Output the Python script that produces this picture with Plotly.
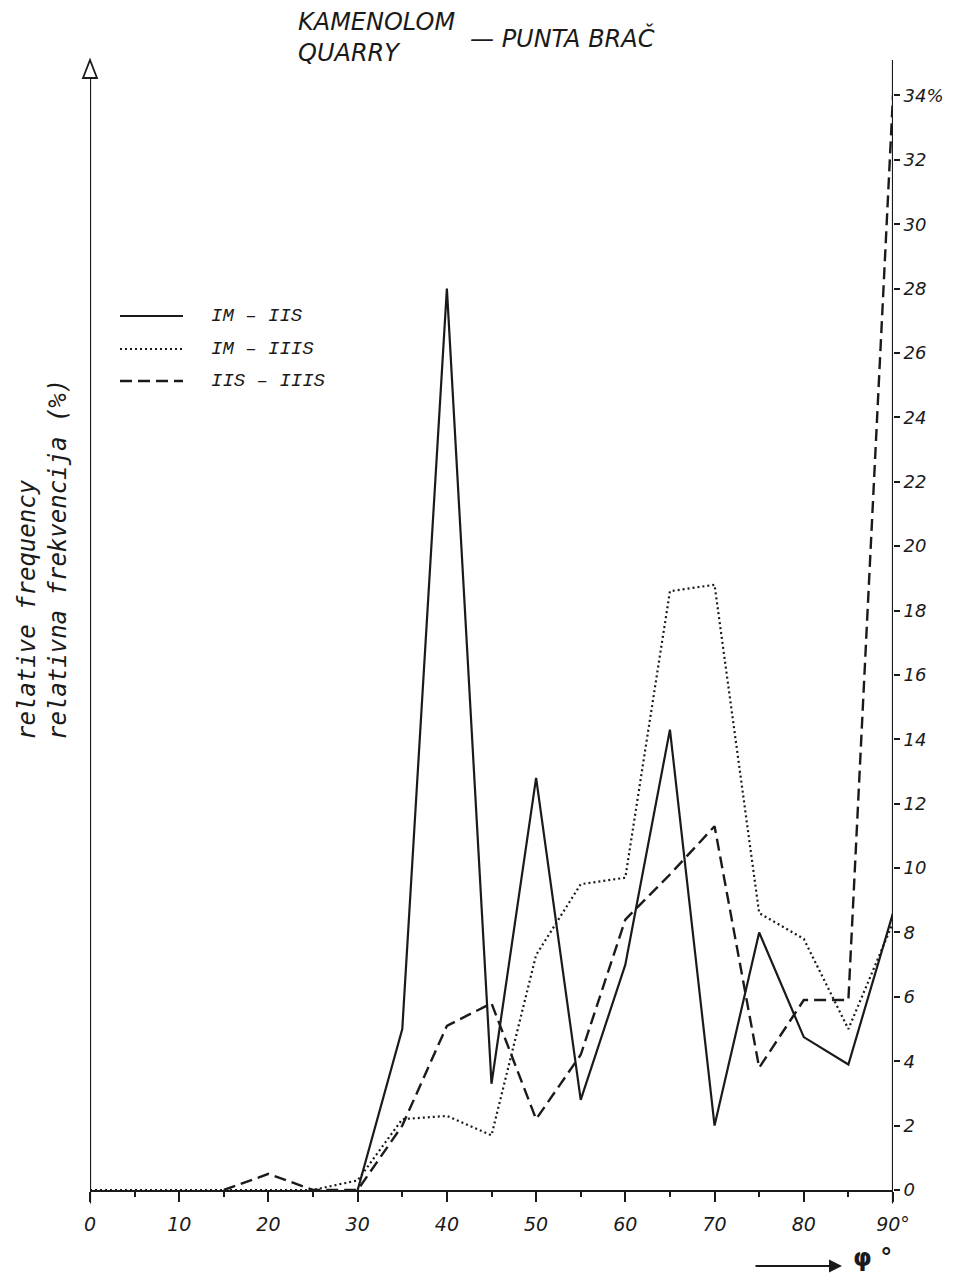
import plotly.graph_objects as go

# ---- data ----
phi = [0, 5, 10, 15, 20, 25, 30, 35, 40, 45, 50, 55, 60, 65, 70, 75, 80, 85, 90]
im_iis = [None, None, None, None, None, None, 0, 5.0, 28.0, 3.3, 12.8, 2.8, 7.0, 14.3, 2.0, 8.0, 4.75, 3.9, 8.6]
im_iiis = [0, 0, 0, 0, 0, 0, 0.3, 2.2, 2.3, 1.7, 7.3, 9.5, 9.7, 18.6, 18.8, 8.6, 7.8, 5.0, 8.3]
iis_iiis = [None, None, None, 0, 0.5, 0, 0, 2.0, 5.1, 5.8, 2.2, 4.2, 8.4, 9.8, 11.3, 3.8, 5.9, 5.9, 34.0]

series_names = ["IM – IIS", "IM – IIIS", "IIS – IIIS"]

x_tickvals = [0, 10, 20, 30, 40, 50, 60, 70, 80, 90]
x_ticktext = ["0", "10", "20", "30", "40", "50", "60", "70", "80", "90°"]
y_tickvals = list(range(0, 35, 2))
y_ticktext = [str(v) for v in y_tickvals[:-1]] + ["34%"]

title_left = "KAMENOLOM<br>QUARRY"
title_right = "— PUNTA BRAČ"
ytitle = "relative frequency<br>relativna frekvencija (%)"
xlabel = "φ °"

# ---- layout geometry ----
W, H = 967, 1275
L, R, T, B = 90, 74, 60, 85
pw, ph = W - L - R, H - T - B


def px(xp):
    return (xp - L) / pw


def py(yp):
    return (H - B - yp) / ph


ink = "#1a1a1a"
sans = "DejaVu Sans, Arial, sans-serif"
mono = "DejaVu Sans Mono, monospace"
typew = "Liberation Mono, DejaVu Sans Mono, monospace"

styles = [
    dict(color=ink, width=2.2, dash="solid"),
    dict(color=ink, width=2.2, dash="2px,3px"),
    dict(color=ink, width=2.4, dash="12px,6px"),
]

fig = go.Figure()
for name, ys, st in zip(series_names, [im_iis, im_iiis, iis_iiis], styles):
    fig.add_trace(go.Scatter(x=phi, y=ys, mode="lines", name=name,
                             line=st, connectgaps=False, showlegend=False))

fig.update_layout(
    width=W, height=H,
    margin=dict(l=L, r=R, t=T, b=B),
    paper_bgcolor="white", plot_bgcolor="white",
    font=dict(family=sans, color=ink),
    xaxis=dict(range=[0, 90], showgrid=False, zeroline=False,
               showline=True, linecolor=ink, linewidth=2,
               tickvals=x_tickvals, ticktext=x_ticktext,
               ticks="outside", ticklen=10, tickwidth=1.8, tickcolor=ink,
               ticklabelstandoff=6,
               minor=dict(dtick=5, ticks="outside", ticklen=5, tickwidth=1.8, tickcolor=ink),
               tickfont=dict(size=19, style="italic", family=sans)),
    yaxis=dict(range=[0, 35.1], side="right", showgrid=False, zeroline=False,
               showline=False,
               tickvals=y_tickvals, ticktext=y_ticktext,
               ticks="outside", ticklen=6, tickwidth=1.8, tickcolor=ink,
               tickfont=dict(size=18, style="italic", family=sans)),
)

# right vertical axis line (through x=90)
fig.add_shape(type="line", xref="x", yref="paper", x0=90, x1=90, y0=-0.012, y1=1.0,
              line=dict(color=ink, width=2.2))
# left vertical axis with hollow arrow head
fig.add_shape(type="line", xref="x", yref="paper", x0=0, x1=0, y0=-0.012, y1=py(78),
              line=dict(color=ink, width=2.2))
fig.add_shape(type="path", xref="paper", yref="paper",
              path=f"M {px(83)} {py(78)} L {px(97)} {py(78)} L {px(90)} {py(60)} Z",
              line=dict(color=ink, width=1.8), fillcolor="white")

# title
fig.add_annotation(xref="paper", yref="paper", x=px(296), y=py(37), xanchor="left", yanchor="middle",
                   text=title_left, showarrow=False, align="left",
                   font=dict(size=24, style="italic", family=sans))
fig.add_annotation(xref="paper", yref="paper", x=px(468), y=py(38), xanchor="left", yanchor="middle",
                   text=title_right, showarrow=False,
                   font=dict(size=24, style="italic", family=sans))

# y title (rotated)
fig.add_annotation(xref="paper", yref="paper", x=px(42), y=py(560), xanchor="center", yanchor="middle",
                   text=ytitle, showarrow=False, textangle=-90, align="left",
                   font=dict(size=24, style="italic", family=mono))

# legend (drawn manually)
leg_y = [316, 349, 381]
for name, st, yy in zip(series_names, styles, leg_y):
    fig.add_shape(type="line", xref="paper", yref="paper", x0=px(120), x1=px(183), y0=py(yy), y1=py(yy),
                  line=st)
    fig.add_annotation(xref="paper", yref="paper", x=px(209), y=py(yy), xanchor="left", yanchor="middle",
                       text=name, showarrow=False,
                       font=dict(size=19, style="italic", family=typew))

# x-axis label with arrow
fig.add_annotation(xref="paper", yref="paper", x=px(842), y=py(1266), ax=-88, ay=0,
                   axref="pixel", ayref="pixel",
                   showarrow=True, arrowhead=2, arrowsize=1.3, arrowwidth=2, arrowcolor=ink, text="")
fig.add_annotation(xref="paper", yref="paper", x=px(851), y=py(1258), xanchor="left", yanchor="middle",
                   text="<b>" + xlabel + "</b>", showarrow=False,
                   font=dict(size=24, family=sans))

fig.write_html("out.html")
